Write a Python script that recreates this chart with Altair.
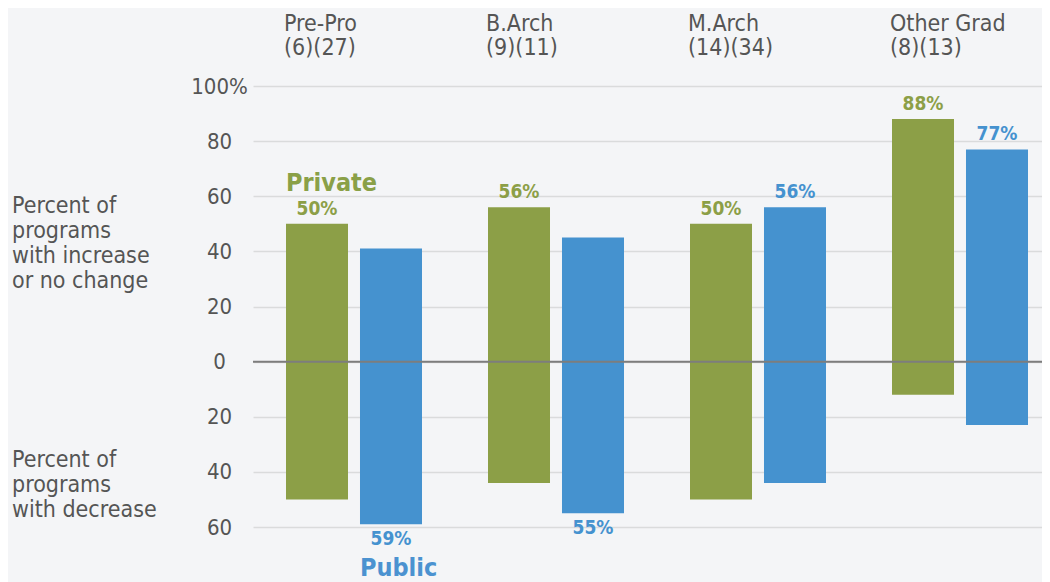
import altair as alt
import pandas as pd

categories = ["Pre-Pro", "B.Arch", "M.Arch", "Other Grad"]
counts = ["(6)(27)", "(9)(11)", "(14)(34)", "(8)(13)"]
series = ["Private", "Public"]
private_increase = [50, 56, 50, 88]
private_decrease = [50, 44, 50, 12]
public_increase = [41, 45, 56, 77]
public_decrease = [59, 55, 44, 23]
private_label_side = ["up", "up", "up", "up"]
public_label_side = ["down", "down", "up", "up"]
y_ticks = [-60, -40, -20, 0, 20, 40, 60, 80, 100]

GREEN = "#8c9f47"
BLUE = "#4592cf"
GREEN_TXT = "#8aa047"
BLUE_TXT = "#4b92d0"
GRAY_TXT = "#555555"
FONT = "DejaVu Sans Condensed"
BG = "#f4f5f7"

rows = []
for i, c in enumerate(categories):
    for s, inc, dec, side in (
        ("Private", private_increase, private_decrease, private_label_side),
        ("Public", public_increase, public_decrease, public_label_side),
    ):
        val = inc[i] if side[i] == "up" else dec[i]
        rows.append(dict(
            category=c, series=s, inc=inc[i], dec=-dec[i],
            label=f"{val}%", label_y=inc[i] if side[i] == "up" else -dec[i],
            side=side[i],
        ))
df = pd.DataFrame(rows)

headers = pd.DataFrame({
    "category": categories,
    "series": [series[0]] * len(categories),
    "header": [f"{c}\n{n}" for c, n in zip(categories, counts)],
})

x_enc = alt.X("category:N", sort=categories,
              scale=alt.Scale(range=[0, 808], paddingInner=0, paddingOuter=0),
              axis=None)
xo_enc = alt.XOffset("series:N", sort=series,
                     scale=alt.Scale(paddingInner=0.162, paddingOuter=0.446))
y_scale = alt.Scale(domain=[-60, 100], nice=False, zero=False)
color_scale = alt.Scale(domain=series, range=[GREEN, BLUE])
text_color_scale = alt.Scale(domain=series, range=[GREEN_TXT, BLUE_TXT])

bars = alt.Chart(df).mark_bar().encode(
    x=x_enc,
    xOffset=xo_enc,
    y=alt.Y("inc:Q", scale=y_scale,
            axis=alt.Axis(values=y_ticks,
                          labelExpr="datum.value == 100 ? '100%' : '' + abs(datum.value)",
                          grid=True, gridColor="#dadbdc", gridWidth=1.5,
                          domain=False, ticks=False, labelPadding=34,
                          labelAlign="center",
                          labelFontSize=22, labelFont=FONT, labelColor=GRAY_TXT,
                          title=None)),
    y2="dec:Q",
    color=alt.Color("series:N", scale=color_scale, legend=None),
)

zero = alt.Chart(pd.DataFrame({"y": [0]})).mark_rule(
    color="#7d7d7d", strokeWidth=2
).encode(y=alt.Y("y:Q", scale=y_scale))

labels_up = alt.Chart(df).transform_filter(alt.datum.side == "up").mark_text(
    fontSize=19, fontWeight="bold", font=FONT, baseline="middle", dy=-15
).encode(
    x=x_enc, xOffset=xo_enc,
    y=alt.Y("label_y:Q", scale=y_scale),
    text="label:N",
    color=alt.Color("series:N", scale=text_color_scale, legend=None),
)

labels_down = alt.Chart(df).transform_filter(alt.datum.side == "down").mark_text(
    fontSize=19, fontWeight="bold", font=FONT, baseline="middle", dy=15
).encode(
    x=x_enc, xOffset=xo_enc,
    y=alt.Y("label_y:Q", scale=y_scale),
    text="label:N",
    color=alt.Color("series:N", scale=text_color_scale, legend=None),
)

header_text = alt.Chart(headers).mark_text(
    align="left", baseline="alphabetic", dx=-33, lineBreak="\n",
    fontSize=23, lineHeight=24, font=FONT, color=GRAY_TXT
).encode(
    x=x_enc, xOffset=xo_enc, y=alt.value(-55), text="header:N"
)

series_df = pd.DataFrame({"category": [categories[0]] * 2, "series": series})

private_name = alt.Chart(series_df).transform_filter(alt.datum.series == "Private").mark_text(
    align="left", baseline="alphabetic", dx=-31, fontSize=25, fontWeight="bold",
    font=FONT, color=GREEN_TXT
).encode(x=x_enc, xOffset=xo_enc, y=alt.value(105), text="series:N")

public_name = alt.Chart(series_df).transform_filter(alt.datum.series == "Public").mark_text(
    align="left", baseline="alphabetic", dx=-31, fontSize=25, fontWeight="bold",
    font=FONT, color=BLUE_TXT
).encode(x=x_enc, xOffset=xo_enc, y=alt.value(490), text="series:N")

side_text = pd.DataFrame({
    "t": ["Percent of\nprograms\nwith increase\nor no change",
          "Percent of\nprograms\nwith decrease"],
})
left_up = alt.Chart(side_text.iloc[[0]]).mark_text(
    align="left", baseline="alphabetic", lineBreak="\n", fontSize=23,
    lineHeight=25, font=FONT, color=GRAY_TXT
).encode(x=alt.value(-241), y=alt.value(127), text="t:N")
left_down = alt.Chart(side_text.iloc[[1]]).mark_text(
    align="left", baseline="alphabetic", lineBreak="\n", fontSize=23,
    lineHeight=25, font=FONT, color=GRAY_TXT
).encode(x=alt.value(-241), y=alt.value(381), text="t:N")

chart = alt.layer(
    bars, zero, labels_up, labels_down, header_text,
    private_name, public_name, left_up, left_down
).properties(
    width=789, height=441,
    autosize=alt.AutoSizeParams(type="none"),
    padding={"left": 245, "top": 78, "right": 0, "bottom": 55},
    background=BG,
).configure_view(stroke=None)

chart.save("out.html", embed_options={"renderer": "svg", "actions": False})
